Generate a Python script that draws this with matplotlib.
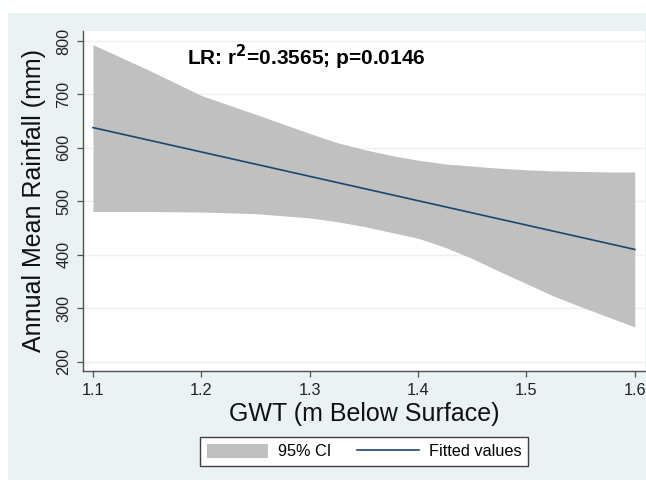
import matplotlib
matplotlib.use("Agg")
import matplotlib.pyplot as plt
from matplotlib.patches import Rectangle
import numpy as np

plt.rcParams['font.family'] = ['Liberation Sans', 'DejaVu Sans']

# values
gwt = [1.10, 1.15, 1.20, 1.25, 1.30, 1.325, 1.35, 1.375, 1.40, 1.425, 1.45,
       1.475, 1.50, 1.525, 1.55, 1.575, 1.60]
ci_upper = [793, 747, 698, 663, 627, 610, 597, 586, 577, 570, 566,
            562, 559, 557, 556, 555, 555]
ci_lower = [481, 481, 480, 477, 469, 462, 453, 442, 431, 414, 393,
            369, 346, 323, 303, 284, 265]
fit_x = [1.1, 1.6]
fit_y = [638, 410]

bg = '#EAF2F3'
band_col = '#C0C0C0'
line_col = '#1A476F'
axis_col = '#505050'

fig = plt.figure(figsize=(6.46, 4.8), dpi=100, facecolor='white')
# light panel behind everything, leaving a thin white strip on top and left
panel = Rectangle((8 / 646, 0), 1, 1 - 13 / 480, transform=fig.transFigure,
                  facecolor=bg, edgecolor='none', zorder=-10)
fig.add_artist(panel)

ax = fig.add_axes([83 / 646, 1 - 371 / 480, 562 / 646, 340 / 480])
ax.set_zorder(1)
ax.set_facecolor('white')

ax.fill_between(gwt, ci_lower, ci_upper, color=band_col, linewidth=0, label='95% CI', zorder=2)
ax.plot(fit_x, fit_y, color=line_col, linewidth=1.2, label='Fitted values', zorder=3)

ax.set_xlim(1.0908, 1.6094)
ax.set_ylim(182.6, 818.7)
ax.set_xticks([1.1, 1.2, 1.3, 1.4, 1.5, 1.6])
ax.set_xticklabels(['1.1', '1.2', '1.3', '1.4', '1.5', '1.6'])
ax.set_yticks([200, 300, 400, 500, 600, 700, 800])
ax.grid(axis='y', color=bg, linewidth=1.0, zorder=1)
ax.set_axisbelow(True)

for s in ['top', 'right']:
    ax.spines[s].set_visible(False)
for s in ['left', 'bottom']:
    ax.spines[s].set_color(axis_col)
    ax.spines[s].set_linewidth(1.0)

ax.tick_params(axis='both', direction='out', length=4.5, width=0.9, color=axis_col,
               labelsize=11.7, pad=4, labelcolor='#222222')
for lab in ax.get_yticklabels():
    lab.set_rotation(90)
    lab.set_va('center')

ax.set_xlabel('GWT (m Below Surface)', fontsize=18, color='#111111', labelpad=3)
ax.set_ylabel('Annual Mean Rainfall (mm)', fontsize=18, color='#111111', labelpad=7)

ax.text(1.1869, 769, 'LR: r$^{\\mathbf{2}}$=0.3565; p=0.0146', fontsize=15, fontweight='bold',
        va='center', ha='left', color='black')

leg = fig.legend(loc='center', bbox_to_anchor=(364 / 646, 1 - 451.5 / 480), ncol=2,
                 fontsize=11.7, frameon=True, fancybox=False, handlelength=3.8,
                 handleheight=1.0, handletextpad=0.6, columnspacing=1.6,
                 borderpad=0.4, borderaxespad=0)
leg.get_frame().set_edgecolor('#404040')
leg.get_frame().set_linewidth(1.0)
leg.get_frame().set_facecolor('white')
leg.get_frame().set_alpha(1)

fig.savefig('out.png', dpi=100, facecolor=fig.get_facecolor())
